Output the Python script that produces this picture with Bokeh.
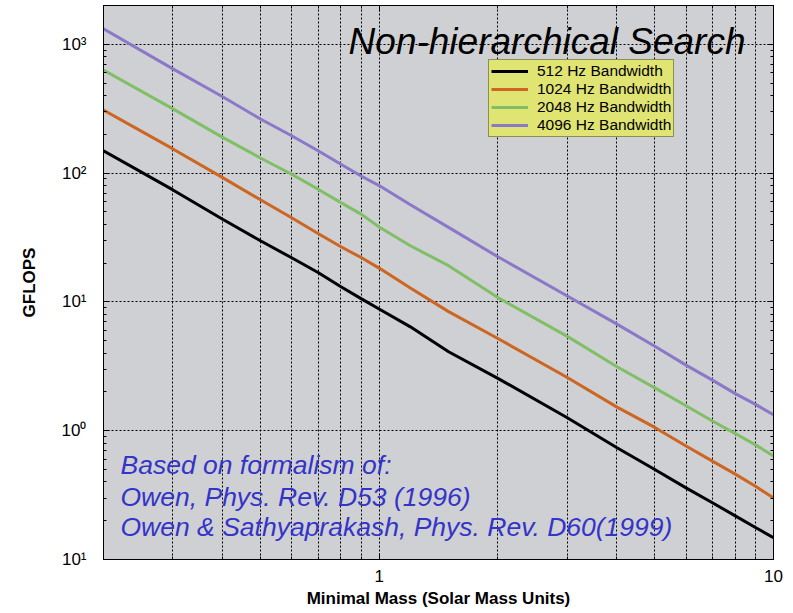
from bokeh.plotting import figure
from bokeh.models import (Range1d, FixedTicker, LogAxis, Legend, LegendItem, Label)
from bokeh.embed import file_html
from bokeh.resources import INLINE

# ---------------- data ----------------
mass = [0.2, 0.3, 0.4, 0.5, 0.6, 0.7, 0.8, 0.9, 1.0, 1.2, 1.5, 2.0,
        3.0, 4.0, 5.0, 6.0, 7.0, 8.0, 9.0, 10.0]
gflops_512 = [149, 74, 44, 29.8, 22.0, 16.9, 13.1, 10.6, 8.8, 6.4, 4.1, 2.55,
              1.26, 0.74, 0.50, 0.36, 0.276, 0.218, 0.177, 0.148]
gflops_1024 = [309, 154, 92.6, 62, 45, 34, 26.8, 22.1, 18.3, 12.8, 8.4, 5.2,
               2.59, 1.53, 1.06, 0.76, 0.58, 0.46, 0.37, 0.30]
gflops_2048 = [632, 315, 190, 131, 98, 75, 59, 48, 38.2, 27.3, 19.1, 10.8,
               5.4, 3.15, 2.15, 1.56, 1.19, 0.95, 0.776, 0.637]
gflops_4096 = [1318, 644, 393, 263, 195, 149, 117, 95, 80, 56.8, 37.9, 22.4,
               11.1, 6.75, 4.52, 3.23, 2.47, 1.94, 1.6, 1.33]

series_labels = ["512 Hz Bandwidth", "1024 Hz Bandwidth",
                 "2048 Hz Bandwidth", "4096 Hz Bandwidth"]
series_colors = ["#000000", "#cc6622", "#80bf66", "#8c78c8"]

x_tick_values = [1, 10]
x_tick_labels = ["1", "10"]
x_minor_ticks = [0.2, 0.3, 0.4, 0.5, 0.6, 0.7, 0.8, 0.9, 2, 3, 4, 5, 6, 7, 8, 9]
y_tick_values = [0.1, 1, 10, 100, 1000]
y_tick_labels = ["10\u00b9", "10\u2070", "10\u00b9", "10\u00b2", "10\u00b3"]

title_text = "Non-hierarchical Search"
note_lines = ["Based on formalism of:",
              "Owen, Phys. Rev. D53 (1996)",
              "Owen & Sathyaprakash, Phys. Rev. D60(1999)"]
note_y = [0.546, 0.308, 0.180]
title_y = 1050
x_label = "Minimal Mass (Solar Mass Units)"
y_label = "GFLOPS"

FONT = "Liberation Sans"

# ---------------- figure ----------------
xr = Range1d(0.2, 10)
yr = Range1d(0.1, 2000)
p = figure(width=790, height=611, x_axis_type="log", y_axis_type="log",
           x_range=xr, y_range=yr, output_backend="svg", toolbar_location=None,
           min_border_left=103, min_border_right=17, min_border_top=5,
           min_border_bottom=52)
p.background_fill_color = "#cfd0d3"
p.border_fill_color = "white"
p.outline_line_color = "black"
p.outline_line_width = 1

y_minor = [m * 10.0 ** e for e in range(-1, 4) for m in range(2, 10)]
xticker = FixedTicker(ticks=x_tick_values, minor_ticks=x_minor_ticks)
yticker = FixedTicker(ticks=y_tick_values, minor_ticks=y_minor)

def style_axis(ax):
    ax.axis_line_color = "black"
    ax.major_tick_in = 6
    ax.major_tick_out = 0
    ax.minor_tick_in = 3
    ax.minor_tick_out = 0
    ax.major_tick_line_color = "black"
    ax.minor_tick_line_color = "black"

def hide_labels(ax):
    ax.major_label_text_font_size = "1px"
    ax.major_label_text_color = None
    ax.major_label_standoff = 0

xa = p.xaxis[0]
xa.ticker = xticker
style_axis(xa)
xa.major_label_overrides = {v: t for v, t in zip(x_tick_values, x_tick_labels)}
xa.major_label_text_font = FONT
xa.major_label_text_font_size = "17px"
xa.major_label_text_color = "black"
xa.major_label_standoff = 10
xa.axis_label = x_label
xa.axis_label_text_font = FONT
xa.axis_label_text_font_style = "bold"
xa.axis_label_text_font_size = "17px"
xa.axis_label_text_color = "black"
xa.axis_label_standoff = 4

ya = p.yaxis[0]
ya.ticker = yticker
style_axis(ya)
ya.major_label_overrides = {v: t for v, t in zip(y_tick_values, y_tick_labels)}
ya.major_label_text_font = FONT
ya.major_label_text_font_size = "17px"
ya.major_label_text_color = "black"
ya.major_label_standoff = 17
ya.axis_label = y_label
ya.axis_label_text_font = FONT
ya.axis_label_text_font_style = "bold"
ya.axis_label_text_font_size = "17px"
ya.axis_label_text_color = "black"
ya.axis_label_standoff = 20

top = LogAxis(ticker=xticker)
style_axis(top)
hide_labels(top)
p.add_layout(top, "above")
right = LogAxis(ticker=yticker)
style_axis(right)
hide_labels(right)
p.add_layout(right, "right")

p.xgrid.ticker = FixedTicker(ticks=x_minor_ticks + x_tick_values)
p.ygrid.ticker = FixedTicker(ticks=y_tick_values)
for g in (p.xgrid[0], p.ygrid[0]):
    g.grid_line_color = "black"
    g.grid_line_dash = "2 2"
    g.grid_line_width = 1
    g.grid_line_alpha = 1.0

# ---------------- lines ----------------
items = []
for lab, col, ys in zip(series_labels, series_colors,
                        [gflops_512, gflops_1024, gflops_2048, gflops_4096]):
    r = p.line(mass, ys, line_color=col, line_width=3)
    items.append(LegendItem(label=lab, renderers=[r]))

legend = Legend(items=items, location=(385, 422), margin=0, padding=2,
                spacing=0, glyph_width=37, glyph_height=18, label_height=18,
                label_standoff=9, label_text_font=FONT,
                label_text_font_size="15.5px", label_text_color="black",
                background_fill_color="#e0e473", background_fill_alpha=1.0,
                border_line_color="#3a3a30", border_line_width=1)
p.add_layout(legend, "center")

# ---------------- title and notes ----------------
p.add_layout(Label(x=xr.end, y=title_y, x_offset=-28, text=title_text,
                   text_align="right", text_baseline="alphabetic",
                   text_font=FONT, text_font_style="italic",
                   text_font_size="37px", text_color="black"))
for line, yy in zip(note_lines, note_y):
    p.add_layout(Label(x=xr.start, y=yy, x_offset=17, text=line,
                       text_align="left", text_baseline="alphabetic",
                       text_font=FONT, text_font_style="italic",
                       text_font_size="26.5px", text_color="#3434c8"))

open("out.html", "w").write(file_html(p, INLINE))
